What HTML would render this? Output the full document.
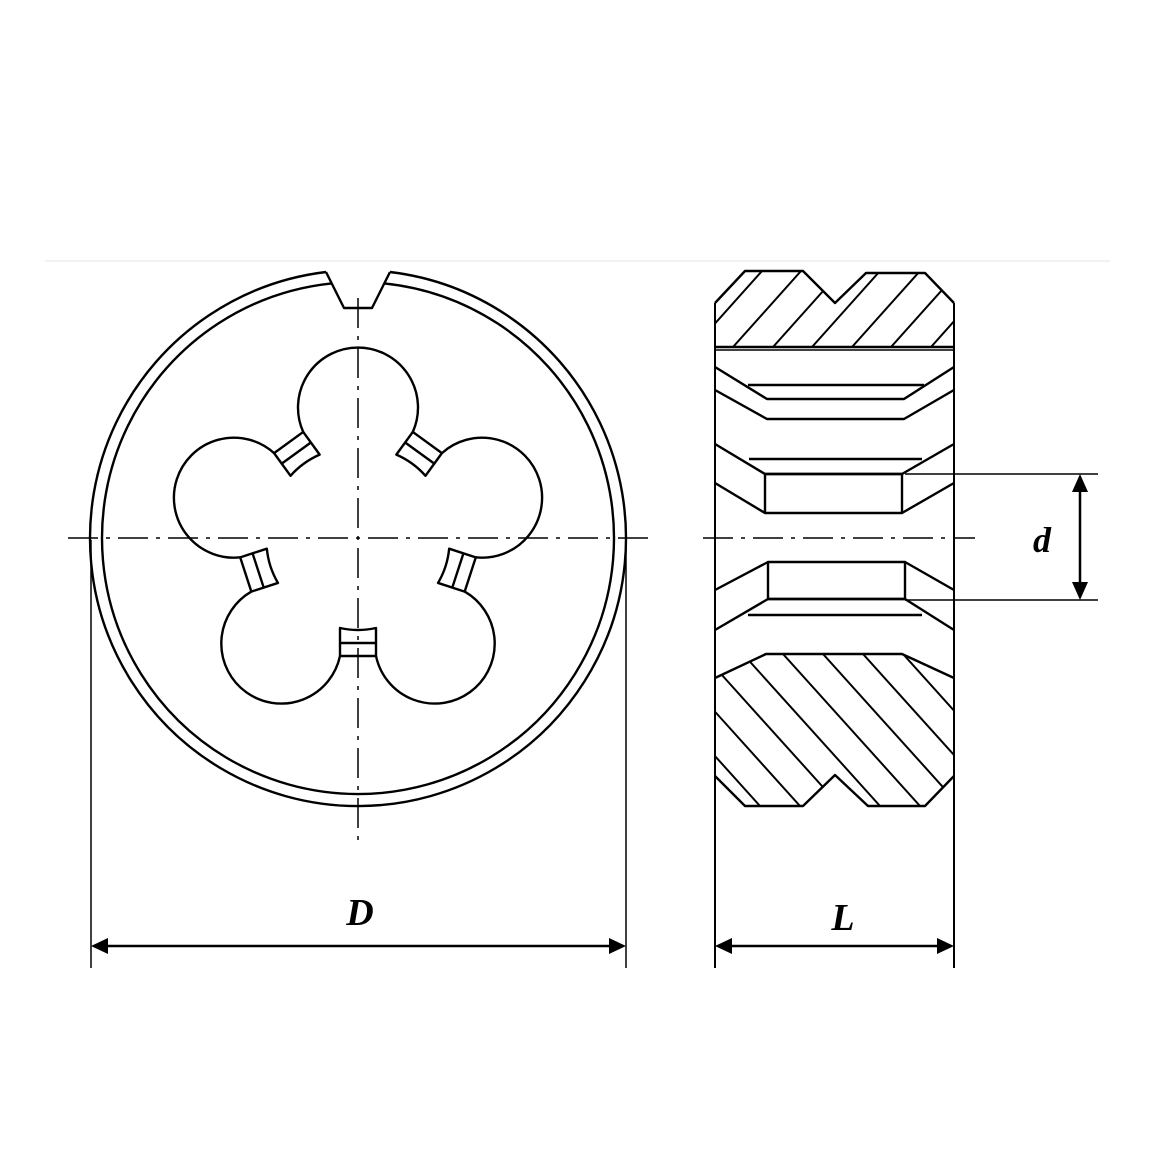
<!DOCTYPE html>
<html><head><meta charset="utf-8"><style>
html,body{margin:0;padding:0;background:#fff;}
svg{display:block;}
text{font-family:"Liberation Serif",serif;font-weight:bold;font-style:italic;}
</style></head><body>
<svg width="1150" height="1150" viewBox="0 0 1150 1150" xmlns="http://www.w3.org/2000/svg">
<defs>
<clipPath id="ct"><polygon points="715,303 745,271 803,271 835,303 866,273 925,273 954,303 954,347 715,347"/></clipPath>
<clipPath id="cb"><polygon points="715,678 766,654 902,654 954,678 954,776 925,806 868,806 835,775 803,806 745,806 715,776"/></clipPath>
</defs>
<line x1="45" y1="261" x2="1110" y2="261" stroke="#e4e4e4" stroke-width="1"/>
<g fill="none" stroke="#000" stroke-width="2.4" stroke-linejoin="round">
<path d="M326,272 A268,268 0 1 0 390,272"/>
<path d="M331.7,283.4 A256,256 0 1 0 384.3,283.4"/>
<path d="M326,272 L344,308 L372,308 L390,272"/>
<g id="u0">
<path d="M376,656 A60,60 0 1 0 464.7,591.6"/>
<path d="M340,656 L340,628 Q358,632 376,628 L376,656 Z"/>
<line x1="340" y1="643" x2="376" y2="643"/>
</g>
<use href="#u0" transform="rotate(72 358 538)"/>
<use href="#u0" transform="rotate(144 358 538)"/>
<use href="#u0" transform="rotate(216 358 538)"/>
<use href="#u0" transform="rotate(288 358 538)"/>
</g>
<g stroke="#000" stroke-width="1.5" fill="none">
<line x1="68" y1="538" x2="655" y2="538" stroke-dasharray="30,8,4,8"/>
<line x1="358" y1="298" x2="358" y2="845" stroke-dasharray="30,8,4,8"/>
<line x1="703" y1="538" x2="975" y2="538" stroke-dasharray="30,8,4,8"/>
</g>
<g fill="none" stroke="#000" stroke-width="2.4" stroke-linejoin="round">
<polyline points="715,303 745,271 803,271 835,303 866,273 925,273 954,303"/>
<line x1="715" y1="347" x2="954" y2="347"/>
<line x1="715" y1="350" x2="954" y2="350" stroke-width="1.5"/>
<polyline points="715,367 767,399 904,399 954,367"/>
<line x1="748" y1="385" x2="924" y2="385"/>
<polyline points="715,390 767,419 904,419 954,390"/>
<line x1="749" y1="459" x2="922" y2="459"/>
<polyline points="715,444 765,474 902,474 954,444"/>
<rect x="765" y="474" width="137" height="39"/>
<polyline points="715,483 765,513"/>
<polyline points="902,513 954,483"/>
<rect x="768" y="562" width="137" height="37"/>
<polyline points="715,590 768,562"/>
<polyline points="905,562 954,590"/>
<polyline points="715,630 768,599 905,599 954,630"/>
<line x1="748" y1="615" x2="922" y2="615"/>
<polyline points="715,678 766,654 902,654 954,678"/>
<polyline points="715,776 745,806 803,806 835,775 868,806 925,806 954,776"/>
<line x1="715" y1="303" x2="715" y2="968" stroke-width="2"/>
<line x1="954" y1="303" x2="954" y2="968" stroke-width="2"/>
</g>
<g stroke="#000" stroke-width="2" clip-path="url(#ct)">
<line x1="654" y1="347" x2="722" y2="271"/>
<line x1="694" y1="347" x2="762" y2="271"/>
<line x1="733" y1="347" x2="801" y2="271"/>
<line x1="773" y1="347" x2="841" y2="271"/>
<line x1="812" y1="347" x2="880" y2="271"/>
<line x1="852" y1="347" x2="920" y2="271"/>
<line x1="891" y1="347" x2="959" y2="271"/>
<line x1="931" y1="347" x2="999" y2="271"/>
</g>
<g stroke="#000" stroke-width="2" clip-path="url(#cb)">
<line x1="583" y1="654" x2="720" y2="806"/>
<line x1="623" y1="654" x2="760" y2="806"/>
<line x1="663" y1="654" x2="800" y2="806"/>
<line x1="703" y1="654" x2="840" y2="806"/>
<line x1="743" y1="654" x2="880" y2="806"/>
<line x1="783" y1="654" x2="920" y2="806"/>
<line x1="823" y1="654" x2="960" y2="806"/>
<line x1="863" y1="654" x2="1000" y2="806"/>
<line x1="903" y1="654" x2="1040" y2="806"/>
</g>
<g stroke="#000" stroke-width="1.5" fill="none">
<line x1="91" y1="540" x2="91" y2="968"/>
<line x1="626" y1="540" x2="626" y2="968"/>
<line x1="905" y1="474" x2="1098" y2="474"/>
<line x1="905" y1="600" x2="1098" y2="600"/>
</g>
<g stroke="#000" stroke-width="2.5">
<line x1="100" y1="946" x2="617" y2="946"/>
<line x1="724" y1="946" x2="945" y2="946"/>
<line x1="1080" y1="484" x2="1080" y2="590"/>
</g>
<g fill="#000">
<polygon points="91,946 108,938 108,954"/>
<polygon points="626,946 609,938 609,954"/>
<polygon points="715,946 732,938 732,954"/>
<polygon points="954,946 937,938 937,954"/>
<polygon points="1080,474 1072,492 1088,492"/>
<polygon points="1080,600 1072,582 1088,582"/>
</g>
<text x="360" y="925" font-size="38" text-anchor="middle">D</text>
<text x="843" y="930" font-size="38" text-anchor="middle">L</text>
<text x="1042" y="552" font-size="36" text-anchor="middle">d</text>
</svg>
</body></html>
